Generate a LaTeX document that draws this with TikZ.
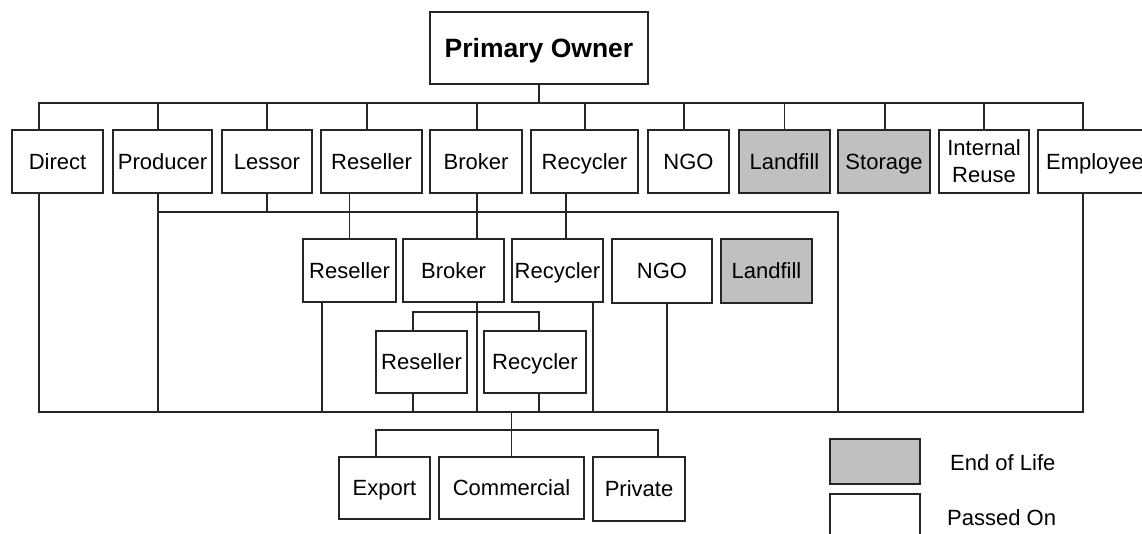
\documentclass[tikz,border=0pt]{standalone}
\usepackage{fontspec}
\setmainfont{Liberation Sans}
\definecolor{eolgray}{HTML}{C0C0C0}
\definecolor{linecol}{HTML}{262626}
\begin{document}
\begin{tikzpicture}[x=1pt,y=-1pt,
  box/.style={draw=linecol, line width=1.2pt, fill=white, inner sep=0pt,
    font=\fontsize{22}{27}\selectfont, text height=15.75pt, text depth=0pt},
  box2/.style={draw=linecol, line width=1.2pt, fill=white, inner sep=0pt,
    font=\fontsize{22}{27}\selectfont, align=center},
  eol/.style={box, fill=eolgray},
  conn/.style={draw=linecol, line width=1.2pt},
  legtext/.style={inner sep=0pt, anchor=west, font=\fontsize{22}{27}\selectfont, text height=15.75pt, text depth=0pt}]
\useasboundingbox (0,0) rectangle (1142,533);
\clip (0,0) rectangle (1142,533);

% rows
\node[box, font=\fontsize{26.5}{30}\bfseries, text height=19pt, minimum width=218pt, minimum height=72pt] (po) at (539,48) {Primary Owner};

\node[box, minimum width=91pt, minimum height=63pt] (direct) at (57.5,161.5) {Direct};
\node[box, minimum width=99pt, minimum height=63pt] (producer) at (162.5,161.5) {Producer};
\node[box, minimum width=90pt, minimum height=63pt] (lessor) at (267,161.5) {Lessor};
\node[box, minimum width=101pt, minimum height=63pt] (reseller) at (371.5,161.5) {Reseller};
\node[box, minimum width=92pt, minimum height=63pt] (broker) at (476,161.5) {Broker};
\node[box, minimum width=107pt, minimum height=63pt] (recycler) at (584.5,161.5) {Recycler};
\node[box, minimum width=81pt, minimum height=63pt] (ngo) at (688.5,161.5) {NGO};
\node[eol, minimum width=91pt, minimum height=63pt] (landfill) at (784.5,161.5) {Landfill};
\node[eol, minimum width=92pt, minimum height=63pt] (storage) at (884,161.5) {Storage};
\node[box2, minimum width=90pt, minimum height=63pt] (internal) at (984,161.5) {Internal\\Reuse};
\node[box, minimum width=114pt, minimum height=63pt] (employee) at (1095,161.5) {Employee};

\node[box, minimum width=93pt, minimum height=63pt] (reseller2) at (349.5,270.5) {Reseller};
\node[box, minimum width=101pt, minimum height=63pt] (broker2) at (453.5,270.5) {Broker};
\node[box, minimum width=91pt, minimum height=63pt] (recycler2) at (557.5,270.5) {Recycler};
\node[box, minimum width=100pt, minimum height=64pt] (ngo2) at (662,271) {NGO};
\node[eol, minimum width=91pt, minimum height=64pt] (landfill2) at (766.5,271) {Landfill};

\node[box, minimum width=91pt, minimum height=62pt] (reseller3) at (421.5,362) {Reseller};
\node[box, minimum width=102pt, minimum height=62pt] (recycler3) at (535,362) {Recycler};

\node[box, minimum width=91pt, minimum height=62pt] (export) at (384.5,488) {Export};
\node[box, minimum width=145pt, minimum height=62pt] (commercial) at (511.5,488) {Commercial};
\node[box, minimum width=92pt, minimum height=64pt] (private) at (639,489) {Private};

% legend
\node[eol, minimum width=90pt, minimum height=45pt] (legeol) at (875,461.5) {};
\node[box, minimum width=90pt, minimum height=60pt] (legpass) at (875,524) {};
\node[legtext] (legeoltext) at (950,463) {End of Life};
\node[legtext] (legpasstext) at (947,517.5) {Passed On};

% bus levels
\coordinate (yA) at (0,103);
\coordinate (yB) at (0,212);
\coordinate (yC) at (0,312);
\coordinate (yD) at (0,412);
\coordinate (yE) at (0,430);
\coordinate (rightB) at (838,212);

% top bus
\draw[conn] (po.south) -- (po.south |- yA);
\draw[conn] ([xshift=-18.5pt]direct.north) |- ([xshift=-12pt]employee.north |- yA) -- ([xshift=-12pt]employee.north);
\foreach \n/\s in {producer/-4.5, lessor/0, reseller/-4.5, broker/1, recycler/0.5, ngo/-4.5, landfill/0, storage/1, internal/0}
  \draw[conn] ([xshift=\s pt]\n.north) -- ([xshift=\s pt]\n.north |- yA);

% second level
\draw[conn] ([xshift=-4.5pt]producer.south) -- ([xshift=-4.5pt]producer.south |- yD);
\draw[conn] ([xshift=-4.5pt]producer.south |- yB) -- (rightB) -- (rightB |- yD);
\draw[conn] (lessor.south) -- (lessor.south |- yB);
\draw[conn] (reseller2.north |- reseller.south) -- (reseller2.north);
\draw[conn] ([xshift=23.5pt]broker2.north |- broker.south) -- ([xshift=23.5pt]broker2.north);
\draw[conn] ([xshift=8.5pt]recycler2.north |- recycler.south) -- ([xshift=8.5pt]recycler2.north);

% third level
\draw[conn] ([xshift=23.5pt]broker2.south) -- ([xshift=23.5pt]broker2.south |- yD);
\draw[conn] ([xshift=-8.5pt]reseller3.north) |- ([xshift=4pt]recycler3.north |- yC) -- ([xshift=4pt]recycler3.north);
\draw[conn] ([xshift=-8.5pt]reseller3.south) -- ([xshift=-8.5pt]reseller3.south |- yD);
\draw[conn] ([xshift=4pt]recycler3.south) -- ([xshift=4pt]recycler3.south |- yD);
\draw[conn] ([xshift=-27.5pt]reseller2.south) -- ([xshift=-27.5pt]reseller2.south |- yD);
\draw[conn] ([xshift=35.5pt]recycler2.south) -- ([xshift=35.5pt]recycler2.south |- yD);
\draw[conn] ([xshift=5pt]ngo2.south) -- ([xshift=5pt]ngo2.south |- yD);

% bottom bus
\draw[conn] ([xshift=-18.5pt]direct.south) |- ([xshift=-12pt]employee.south |- yD) -- ([xshift=-12pt]employee.south);
\draw[conn] (commercial.north |- yD) -- (commercial.north);
\draw[conn] ([xshift=-8.5pt]export.north) |- ([xshift=19pt]private.north |- yE) -- ([xshift=19pt]private.north);
\end{tikzpicture}
\end{document}
